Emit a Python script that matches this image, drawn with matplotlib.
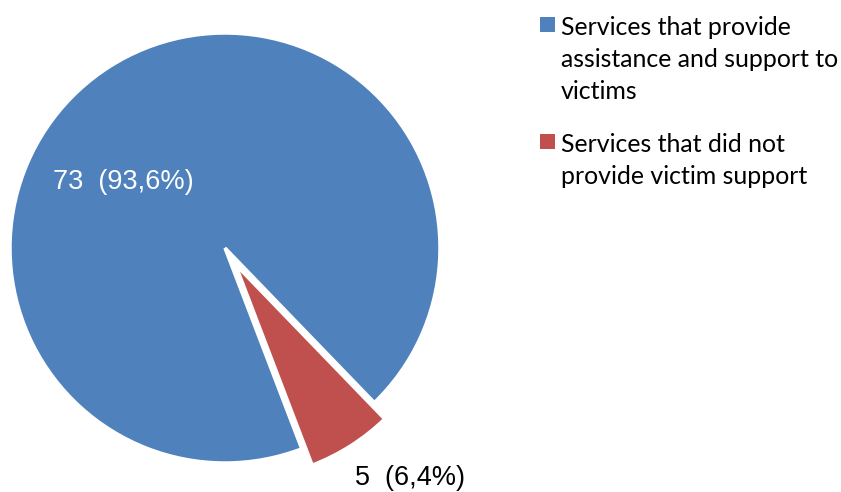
import matplotlib.pyplot as plt
from matplotlib.patches import Rectangle

categories = ["Services that provide\nassistance and support to\nvictims",
              "Services that did not\nprovide victim support"]
counts = [73, 5]
colors = ["#4F81BD", "#C0504D"]
explode = [0, 0.09]

W, H = 841, 492
fig = plt.figure(figsize=(W / 100, H / 100), dpi=100)

# pie axes sized so that radius 1 spans the drawn circle
cx, cy, r = 225, 248, 215
ax = fig.add_axes([(cx - r) / W, (H - cy - r) / H, 2 * r / W, 2 * r / H])
wedges, _ = ax.pie(counts, colors=colors, explode=explode, startangle=-46,
                   counterclock=True,
                   wedgeprops=dict(edgecolor="white", linewidth=2.5, clip_on=False))
ax.set_xlim(-1, 1)
ax.set_ylim(-1, 1)
ax.set_aspect("equal")
ax.axis("off")

total = sum(counts)
labels = [f"{c}  ({c / total * 100:.1f}%)".replace(".", ",") for c in counts]
ax.text(-0.475, 0.307, labels[0], color="white", fontsize=19.5,
        family="Liberation Sans", ha="center", va="center")
ax.text(0.86, -1.07, labels[1], color="black", fontsize=19.5,
        family="Liberation Sans", ha="center", va="center", clip_on=False)

# legend drawn by hand: square swatch + one text line per row
first_baseline = [35, 152]   # px from top
line_step = 32
for cat, col, y0 in zip(categories, colors, first_baseline):
    fig.patches.append(Rectangle((540 / W, 1 - (y0 - 3) / H), 15 / W, 15 / H,
                                 transform=fig.transFigure, facecolor=col,
                                 edgecolor="none"))
    for i, line in enumerate(cat.split("\n")):
        fig.text(561 / W, 1 - (y0 + i * line_step) / H, line, family="Lato",
                 fontsize=17.9, va="baseline", ha="left", color="black")

fig.savefig("out.png", dpi=100)
